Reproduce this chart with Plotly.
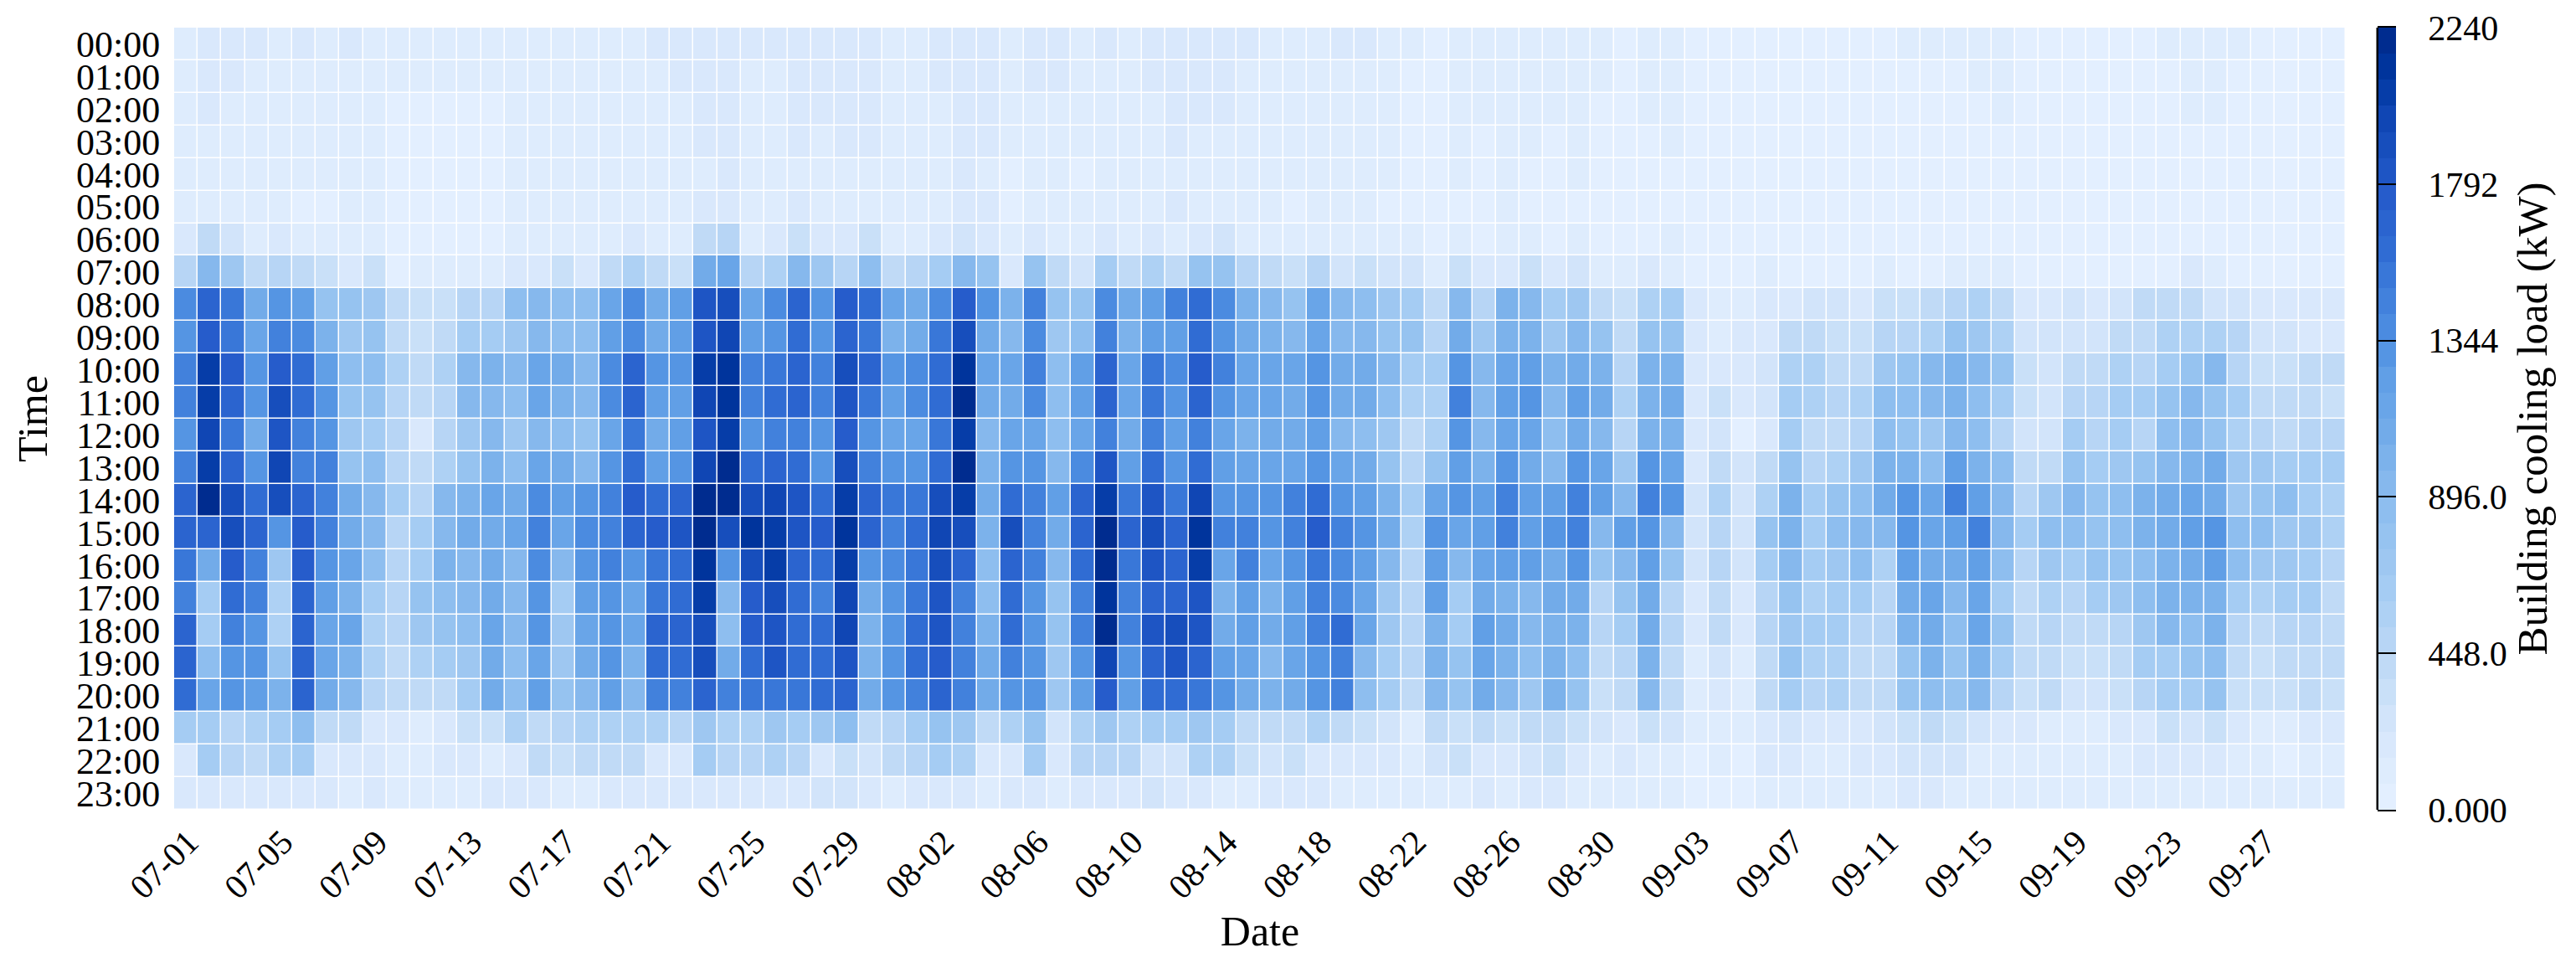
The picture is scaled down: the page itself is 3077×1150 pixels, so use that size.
import numpy as np
import pandas as pd
import plotly.graph_objects as go

# ---- categories and labels ----
dates = [d.strftime("%m-%d") for d in pd.date_range("2023-07-01", "2023-09-30")]
date_ticks = ["07-01","07-05","07-09","07-13","07-17","07-21","07-25","07-29",
              "08-02","08-06","08-10","08-14","08-18","08-22","08-26","08-30",
              "09-03","09-07","09-11","09-15","09-19","09-23","09-27"]
hours = ["%02d:00" % h for h in range(24)]
cbar_vals = [0, 448, 896, 1344, 1792, 2240]
cbar_text = ["0.000", "448.0", "896.0", "1344", "1792", "2240"]

# ---- cooling load, tens of kW, one row per hour ----
h00 = [12,20,22,20,14,16,14,16,14,10,8,8,8,8,12,10,12,14,12,14,20,20,20,22,20,22,22,22,
       22,22,14,14,18,20,18,14,18,22,8,20,14,18,18,18,18,18,10,12,10,20,22,12,10,4,10,12,
       10,10,12,12,12,6,12,12,4,4,4,4,4,4,4,4,4,10,12,12,12,10,4,4,4,4,4,4,8,10,10,10,4,4,4,4]
h01 = [12,16,20,14,14,14,14,14,14,8,8,8,8,8,12,10,10,10,12,12,12,18,20,20,14,12,18,18,
       18,20,12,14,18,20,18,14,16,20,8,14,12,18,18,18,18,12,12,12,10,10,10,12,4,4,10,12,
       10,10,12,12,12,4,12,12,4,4,4,4,4,4,4,4,4,4,4,4,12,10,4,4,4,4,4,4,4,10,8,4,4,4,4,4]
h02 = [12,16,10,10,12,12,12,14,12,7,7,7,7,7,12,10,10,12,12,12,12,12,18,20,14,12,18,18,
       18,18,12,12,12,18,18,12,14,12,10,12,12,12,18,18,18,12,12,12,10,10,10,12,4,4,10,12,
       10,10,14,12,4,4,12,12,4,4,4,4,4,4,4,4,4,4,4,4,4,10,4,4,4,4,4,4,4,8,8,4,4,4,4,4]
h03 = [12,14,10,10,12,12,12,12,12,7,7,7,7,7,12,10,10,10,12,12,12,12,16,18,12,12,16,10,
       16,18,10,10,10,18,16,12,12,10,8,10,10,10,16,10,14,10,10,12,10,10,10,12,4,4,8,4,
       8,10,4,10,4,4,4,8,4,4,4,4,4,4,4,4,4,4,4,4,4,4,4,4,4,4,5,4,4,4,4,4,4,4,4,4]
h04 = [10,10,10,10,10,12,12,12,12,6,6,6,6,6,10,8,10,8,10,8,10,8,14,16,10,10,14,8,
       10,14,8,8,8,16,14,6,8,8,7,8,8,8,14,8,12,8,8,10,10,10,10,12,4,4,8,4,
       10,4,4,10,4,4,4,4,4,4,4,4,4,4,4,4,4,4,4,4,4,4,4,4,4,4,4,4,4,4,4,4,4,4,4,4]
h05 = [10,14,9,8,10,6,6,12,12,6,6,6,6,6,10,8,8,8,8,8,14,12,18,20,12,12,18,10,
       10,8,10,10,10,18,18,6,10,10,8,12,10,10,16,12,14,10,10,4,8,10,10,4,4,4,4,4,
       8,4,4,4,4,4,4,4,4,4,4,4,4,4,4,4,4,4,4,4,4,4,4,4,4,4,4,4,4,4,4,4,4,4,4,4]
h06 = [18,38,26,12,20,14,12,12,14,7,7,7,7,7,14,12,14,12,12,20,14,10,40,46,12,20,30,20,
       18,30,12,12,18,28,20,14,18,12,10,18,14,18,14,20,28,10,10,12,10,10,10,12,8,4,8,4,
       8,10,6,10,4,4,4,8,4,4,4,4,4,4,4,4,4,4,4,4,4,4,4,4,4,4,4,4,4,4,4,4,4,4,4,4]
h07 = [52,96,74,44,50,44,30,20,32,7,14,12,12,9,20,20,30,22,38,58,44,32,110,112,48,58,90,74,
       48,86,44,48,66,94,76,16,76,38,28,66,40,58,42,78,78,48,42,30,46,28,30,24,24,14,34,20,
       20,30,22,24,12,8,20,12,6,6,6,8,6,6,5,5,10,5,5,12,12,10,5,5,5,5,5,5,5,22,10,5,5,5,5,5]
h08 = [135,165,150,110,130,122,82,78,72,44,31,32,52,46,84,90,84,86,115,135,105,120,185,188,118,135,168,130,
       172,158,112,106,140,175,128,98,145,80,80,140,105,120,145,160,140,102,92,80,116,92,88,70,66,42,92,52,
       104,92,62,72,42,30,54,62,18,12,11,16,21,26,24,22,30,34,40,52,54,40,22,20,24,22,23,38,44,40,23,23,18,18,20,20]
h09 = [128,175,155,114,145,140,100,72,78,43,34,38,64,62,74,94,86,88,124,138,110,120,186,196,124,134,158,130,
       168,150,104,110,152,187,108,96,138,72,86,148,102,126,122,162,128,108,100,92,116,94,92,78,76,46,106,72,
       104,100,74,92,76,42,80,76,20,14,16,16,38,38,30,36,46,50,58,80,70,58,28,24,26,28,44,42,56,58,58,48,28,24,22,22]
h10 = [145,205,176,132,178,158,126,84,88,58,40,58,90,102,94,114,108,90,138,170,132,132,208,212,146,150,170,148,
       192,165,130,138,162,210,118,114,145,84,120,168,116,152,138,178,142,118,116,118,134,108,108,92,66,66,134,94,
       118,126,100,108,100,50,104,100,22,20,16,24,56,56,44,44,74,76,92,104,94,76,30,26,44,44,58,52,66,76,90,52,34,34,40,38]
h11 = [142,202,170,132,190,158,128,78,82,52,38,50,90,94,84,116,100,94,138,168,120,126,198,216,148,158,168,144,
       182,152,126,138,158,218,108,108,138,84,120,168,116,152,130,168,132,118,118,108,130,106,106,88,58,58,145,94,
       124,130,94,124,108,54,104,108,20,30,16,24,60,54,48,56,86,88,90,104,86,62,34,26,52,52,66,60,76,90,80,60,40,40,42,34]
h12 = [132,198,150,110,182,142,130,70,66,46,20,46,72,94,72,92,86,82,114,152,110,120,182,208,134,142,142,130,
       175,134,118,118,150,204,94,116,118,84,116,146,108,144,120,148,118,102,108,106,120,94,86,72,38,58,130,94,
       116,112,86,108,92,50,100,104,16,26,6,22,64,42,42,50,88,78,72,94,86,52,28,24,64,52,60,52,86,92,78,58,48,42,46,46]
h13 = [142,208,170,130,200,146,145,82,88,52,42,58,78,104,88,116,106,90,130,160,126,132,200,225,158,168,158,134,
       190,144,132,132,160,220,104,134,130,92,138,182,124,158,134,160,120,116,118,118,134,114,106,80,52,80,126,104,
       130,108,94,130,116,74,134,116,22,38,26,42,78,52,58,72,104,104,88,120,100,86,44,42,78,62,72,76,92,104,106,72,72,62,62,62]
h14 = [165,222,194,158,190,168,148,106,96,62,50,94,100,118,106,138,120,130,148,176,158,165,224,232,190,200,182,162,
       208,168,150,150,194,204,110,162,148,120,168,204,150,186,150,200,134,134,130,142,162,134,124,104,66,118,130,124,
       146,126,124,146,120,94,146,130,26,56,28,58,100,66,80,84,106,130,116,142,124,92,52,72,94,82,88,100,108,116,108,72,80,88,62,58]
h15 = [168,170,190,165,134,176,146,110,96,52,66,90,106,108,116,148,116,138,148,168,176,182,236,194,210,204,182,172,
       210,165,146,162,198,190,104,190,148,108,170,218,165,192,168,210,142,142,134,142,174,148,130,106,56,134,116,126,
       148,122,130,146,92,120,130,94,24,52,26,80,100,66,88,92,92,130,114,120,146,94,66,88,84,82,88,100,108,124,132,84,86,70,72,56]
h16 = [155,106,172,148,72,172,134,118,84,52,66,100,96,106,96,140,90,134,142,134,152,162,210,134,194,202,168,158,
       208,134,140,150,190,168,88,168,145,94,160,236,150,182,168,204,118,142,118,134,150,138,124,90,52,124,90,116,
       120,120,106,130,82,96,120,78,24,52,26,60,94,60,70,84,58,120,108,106,126,84,50,72,62,76,78,84,100,108,124,88,70,72,62,50]
h17 = [148,62,160,142,58,168,124,104,64,46,76,88,90,106,90,130,62,120,134,116,150,162,204,92,176,192,158,148,
       198,108,134,150,182,148,88,158,134,80,148,216,148,168,168,186,104,120,104,120,142,138,114,72,50,120,62,108,
       104,94,106,108,48,80,110,52,16,42,22,52,80,56,66,66,50,110,118,90,118,62,42,58,52,62,72,84,100,104,104,62,54,60,60,42]
h18 = [168,62,145,134,58,168,118,114,58,52,72,78,84,116,94,130,72,118,134,118,168,168,190,84,174,186,158,158,
       198,104,130,158,182,145,104,158,134,78,148,218,148,182,190,182,108,120,106,124,145,162,116,72,50,100,62,126,
       108,94,100,104,50,62,110,50,18,44,18,52,72,62,62,52,50,100,110,88,116,76,42,52,44,44,52,72,94,84,100,48,42,52,52,44]
h19 = [168,84,134,134,76,168,118,104,58,44,58,62,72,110,86,118,72,110,130,104,160,160,190,108,162,180,158,158,
       182,104,134,158,172,142,110,148,134,72,134,200,134,168,180,165,120,116,94,116,134,148,94,60,50,104,76,116,
       104,84,100,88,40,52,104,40,12,28,12,44,76,56,54,44,40,82,104,80,104,60,38,42,30,30,44,62,66,76,86,38,34,42,44,38]
h20 = [158,116,130,120,100,168,106,90,52,44,44,44,60,106,84,120,82,94,120,96,146,148,168,142,152,156,154,158,
       168,106,130,148,168,146,106,134,134,72,124,176,126,158,160,150,134,110,100,106,130,145,88,62,44,92,78,106,
       94,72,104,76,34,42,92,40,8,22,12,38,60,52,54,42,40,76,88,76,92,50,34,40,24,24,34,52,60,62,76,34,30,34,38,30]
h21 = [60,62,52,58,62,84,38,38,20,20,14,20,30,34,56,42,48,56,58,58,56,52,74,58,56,74,64,70,
       86,42,50,60,76,70,44,56,78,26,56,74,56,62,64,74,62,42,42,44,56,38,30,24,8,38,34,42,
       34,38,42,34,24,22,34,24,8,14,8,20,28,22,22,18,24,34,40,30,24,22,18,14,8,12,18,22,30,28,30,16,12,12,16,16]
h22 = [20,66,50,44,56,66,18,16,20,14,12,18,18,14,18,44,30,40,38,44,18,18,66,52,52,56,52,20,
       30,26,44,52,66,58,20,22,60,16,52,50,52,24,24,58,58,34,26,34,22,18,16,16,8,28,30,20,
       16,25,30,22,12,20,14,14,2,8,2,16,20,12,14,20,18,26,28,24,14,14,8,8,12,12,14,16,20,18,22,8,8,2,8,8]
h23 = [20,20,20,20,20,20,18,14,16,12,8,14,14,20,16,20,14,14,20,20,18,20,22,22,20,18,20,24,
       24,16,12,20,22,22,14,18,22,14,20,22,16,24,20,22,14,14,18,20,18,12,12,12,14,14,14,18,
       14,16,22,14,8,14,14,12,2,2,2,8,14,12,8,14,12,16,16,14,8,8,8,8,8,8,10,10,10,10,10,8,8,8,8,8]

rows = [h00,h01,h02,h03,h04,h05,h06,h07,h08,h09,h10,h11,h12,h13,h14,h15,h16,h17,h18,h19,h20,h21,h22,h23]
for i, r in enumerate(rows):
    assert len(r) == 92, (i, len(r))
z = [[v * 10 for v in r] for r in rows]

# ---- stepped colour scale ----
stop_vals = [0,200,320,448,600,896,1100,1250,1344,1500,1620,1792,1880,2000,2120,2240]
stop_cols = ["#E4F0FF","#D7E7FB","#C9E0F8","#BAD7F5","#A8CEF3","#8ABBEE","#70AAE9","#5F9EE6",
             "#5090E2","#3E7CDA","#2F6BD3","#2459CA","#1A52C0","#0F45B3","#0037A0","#002A8C"]
rgb = np.array([[int(c[i:i+2], 16) for i in (1, 3, 5)] for c in stop_cols])
N = 30
cs = []
for k in range(N):
    mid = k / (N - 1) * 2240 * 0.5 + (k + 0.5) / N * 2240 * 0.5
    col = [int(round(np.interp(mid, stop_vals, rgb[:, j]))) for j in range(3)]
    cs.append([k / N, "rgb(%d,%d,%d)" % tuple(col)])
    cs.append([(k + 1) / N, "rgb(%d,%d,%d)" % tuple(col)])

FONT = "Liberation Serif"
L, R, T, B = 208, 275, 33, 183
W, H = 3077, 1150
pw = W - L - R
ph = H - T - B
PAD = "\u00a0\u00a0\u2009"
bar_x0 = (2840 - L) / pw
bar_x1 = (2862 - L) / pw

fig = go.Figure(go.Heatmap(
    z=z, x=dates, y=hours, zmin=0, zmax=2240, colorscale=cs, xgap=1.5, ygap=1.5,
    colorbar=dict(
        x=(2841 - L) / pw, xanchor="left", y=0.5, yanchor="middle", len=1, lenmode="fraction",
        thickness=21, thicknessmode="pixels", xpad=0, ypad=0, outlinewidth=0,
        ticks="inside", ticklen=21, tickwidth=2, tickcolor="black",
        tickvals=cbar_vals, ticktext=[PAD + t for t in cbar_text],
        tickfont=dict(family=FONT, size=42, color="black"),
        title=dict(text="Building cooling load (kW)", side="right",
                   font=dict(family=FONT, size=51, color="black")),
    ),
))
fig.update_layout(
    width=W, height=H, autosize=False,
    margin=dict(l=L, r=R, t=T, b=B, pad=0),
    paper_bgcolor="white", plot_bgcolor="white",
    font=dict(family=FONT, color="black"),
    xaxis=dict(type="category", tickmode="array", tickvals=date_ticks, ticktext=date_ticks,
               tickangle=-45, showgrid=False, zeroline=False, showline=False,
               ticks="outside", ticklen=5, tickcolor="rgba(0,0,0,0)",
               ticklabelshift=3, ticklabelstandoff=-8,
               tickfont=dict(family=FONT, size=41, color="black"), automargin=False,
               title=dict(text="Date", font=dict(family=FONT, size=50, color="black"), standoff=12)),
    yaxis=dict(type="category", autorange="reversed", tickmode="array", tickvals=hours, ticktext=hours,
               showgrid=False, zeroline=False, showline=False,
               ticks="outside", ticklen=7, tickcolor="rgba(0,0,0,0)",
               tickfont=dict(family=FONT, size=44, color="black"), automargin=False,
               title=dict(text="Time", font=dict(family=FONT, size=50, color="black"), standoff=18)),
    shapes=[
        dict(type="line", xref="paper", yref="paper", x0=bar_x0, x1=bar_x0, y0=0, y1=1,
             line=dict(color="black", width=3)),
        dict(type="line", xref="paper", yref="paper", x0=bar_x0, x1=bar_x1, y0=1 + 1 / ph, y1=1 + 1 / ph,
             line=dict(color="black", width=2)),
        dict(type="line", xref="paper", yref="paper", x0=bar_x0, x1=bar_x1, y0=-1 / ph, y1=-1 / ph,
             line=dict(color="black", width=2)),
    ],
)
fig.write_html("out.html", config={"displayModeBar": False},
               post_script="document.body.style.margin='0';document.documentElement.style.overflow='hidden';")
